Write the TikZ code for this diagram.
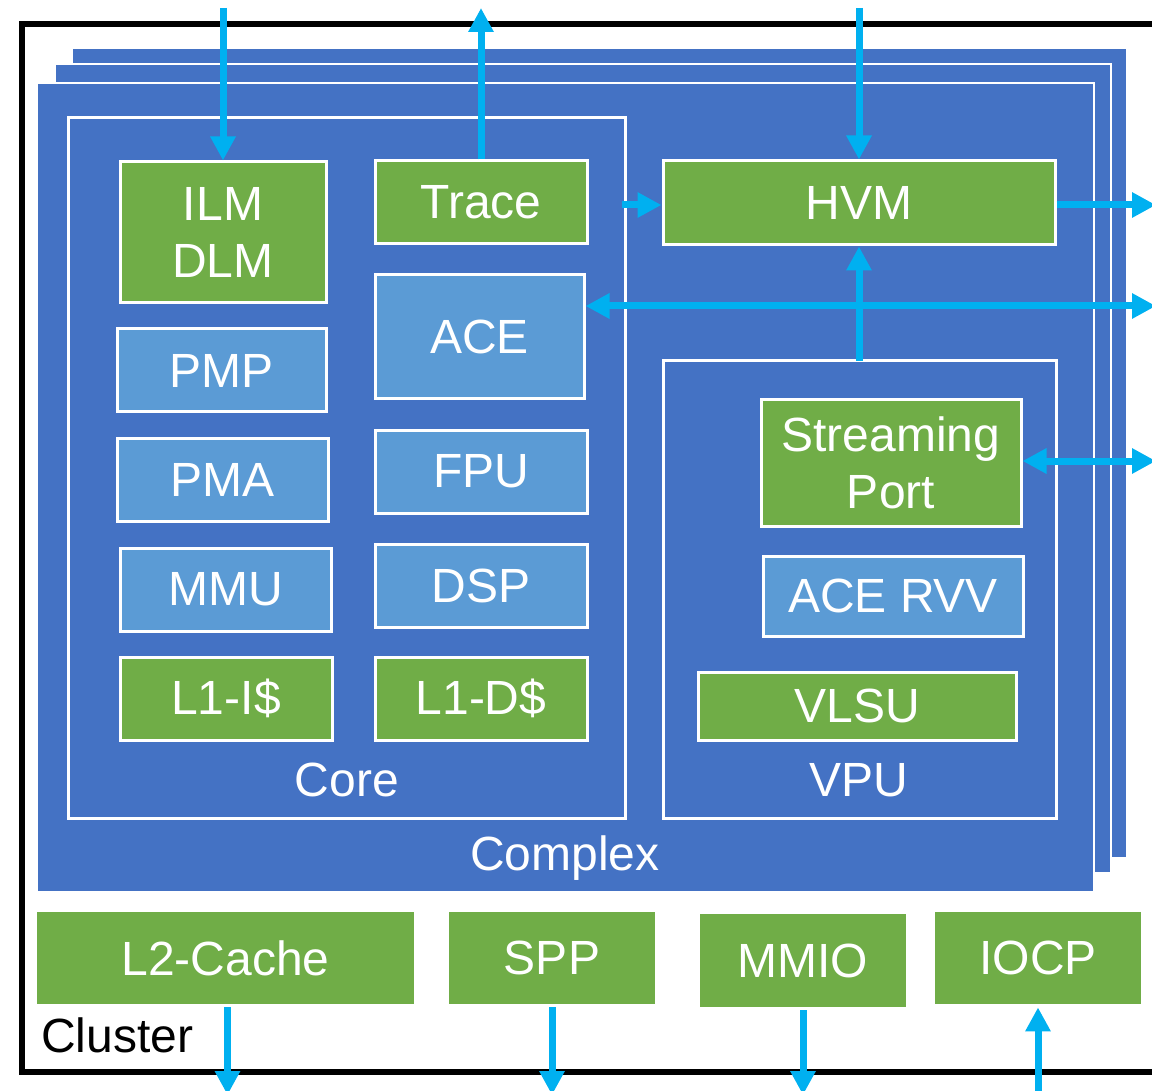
\documentclass[tikz,border=0pt]{standalone}
\usepackage{fontspec}
\setmainfont{Liberation Sans}
\usepackage{xcolor}
\usepackage{tikz}
\usetikzlibrary{arrows.meta, positioning}
\definecolor{complexBlue}{HTML}{4472C4}
\definecolor{unitBlue}{HTML}{5B9BD5}
\definecolor{memGreen}{HTML}{70AD47}
\definecolor{linkCyan}{HTML}{00B0F0}

\begin{document}
\begin{tikzpicture}[
  x=0.5pt, y=-0.5pt,
  every node/.style={font=\fontsize{24}{28.5}\selectfont, color=white, align=center},
  gbox/.style={rectangle, draw=white, fill=memGreen, line width=1.5pt, inner sep=0pt},
  bbox/.style={rectangle, draw=white, fill=unitBlue, line width=1.5pt, inner sep=0pt},
  pbox/.style={rectangle, draw=none, fill=memGreen, inner sep=0pt},
  panel/.style={draw=white, fill=complexBlue, line width=1pt},
  frame/.style={draw=white, line width=1.5pt},
  link/.style={draw=linkCyan, line width=3.5pt, -{Triangle[length=12pt, width=12pt]}},
  dlink/.style={link, {Triangle[length=12pt, width=12pt]}-{Triangle[length=12pt, width=12pt]}}
]
\useasboundingbox (0,0) rectangle (1152,1091);

% cluster frame
\draw[line width=3pt] (1170,24) -- (22,24) -- (22,1072) -- (1170,1072);

% stacked complexes
\draw[panel] (72,48) rectangle (1127,858);
\draw[panel] (55,64) rectangle (1111,873);
\draw[panel] (37,83) rectangle (1094,892);
\node at (565,858) {Complex};

% core and vpu outlines
\draw[frame] (68,118) rectangle (625,818);
\node at (347,780) {Core};
\draw[frame] (663,361) rectangle (1056,818);
\node at (859,780) {VPU};
\coordinate (vpuTop) at (859,361);

% core units
\node[gbox, minimum width=103pt, minimum height=70.5pt] (ilm) at (223,232.5) {ILM\\DLM};
\node[bbox, minimum width=104.5pt, minimum height=41.5pt] (pmp) at (221.5,370.5) {PMP};
\node[bbox, minimum width=105.5pt, minimum height=41.5pt] (pma) at (222.5,479.5) {PMA};
\node[bbox, minimum width=105.5pt, minimum height=41.5pt] (mmu) at (225.5,589.5) {MMU};
\node[gbox, minimum width=106pt, minimum height=41.5pt] (l1i) at (226,698.5) {L1-I\$};
\node[gbox, minimum width=106pt, minimum height=41.5pt] (trace) at (481,202.5) {Trace};
\node[bbox, minimum width=104.5pt, minimum height=62pt] (ace) at (479.5,337) {ACE};
\node[bbox, minimum width=106pt, minimum height=41.5pt] (fpu) at (481,471.5) {FPU};
\node[bbox, minimum width=106pt, minimum height=41.5pt] (dsp) at (481,585.5) {DSP};
\node[gbox, minimum width=106pt, minimum height=41.5pt] (l1d) at (481,698.5) {L1-D\$};

% hvm and vpu units
\node[gbox, minimum width=196pt, minimum height=42pt] (hvm) at (859,203) {HVM};
\node[gbox, minimum width=130pt, minimum height=63pt] (sport) at (891,463) {Streaming\\Port};
\node[bbox, minimum width=130pt, minimum height=40pt] (rvv) at (893,596) {ACE RVV};
\node[gbox, minimum width=159pt, minimum height=34pt] (vlsu) at (857,706) {VLSU};

% cluster level blocks
\node[pbox, minimum width=188.5pt, minimum height=46pt] (l2) at (225.5,958) {L2-Cache};
\node[pbox, minimum width=103pt, minimum height=46pt] (spp) at (552,958) {SPP};
\node[pbox, minimum width=103pt, minimum height=46.5pt] (mmio) at (803,960.5) {MMIO};
\node[pbox, minimum width=103pt, minimum height=46pt] (iocp) at (1038,958) {IOCP};
\node[anchor=west, color=black] (cluster) at (34,1035) {Cluster};

% free ends of the links
\coordinate (ilmIn) at (223,8);
\coordinate (traceUp) at (481,8);
\coordinate (hvmIn) at (859,8);
\coordinate (traceOut) at (622,205);
\coordinate (hvmOut) at (1156,205);
\coordinate (aceOut) at (1156,306);
\coordinate (portOut) at (1156,461);
\coordinate (busLow) at (0,1095);

% links
\draw[link] (ilmIn) -- (ilm.north);
\draw[link] (trace.north) -- (traceUp);
\draw[link] (hvmIn) -- (hvm.north);
\draw[link] (traceOut) -- (hvm.west |- traceOut);
\draw[link] (hvm.east |- hvmOut) -- (hvmOut);
\draw[dlink] (ace.east |- aceOut) -- (aceOut);
\draw[link] (vpuTop) -- (hvm.south);
\draw[dlink] (sport.east |- portOut) -- (portOut);
\draw[link] ([xshift=1pt, yshift=-1.5pt]l2.south) -- ([xshift=1pt]l2.south |- busLow);
\draw[link] ([yshift=-1.5pt]spp.south) -- (spp.south |- busLow);
\draw[link] ([yshift=-1.5pt]mmio.south) -- (mmio.south |- busLow);
\draw[link] (iocp.south |- busLow) -- ([yshift=-1.5pt]iocp.south);
\end{tikzpicture}
\end{document}
